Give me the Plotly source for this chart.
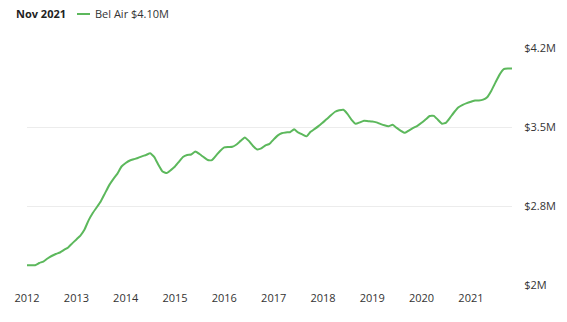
import pandas as pd
import plotly.graph_objects as go

start_month = "2012-01-01"
n_months = 119
values_musd = [
    2.275, 2.275, 2.275, 2.295, 2.308, 2.335, 2.357, 2.375, 2.388, 2.411,
    2.433, 2.469, 2.504, 2.540, 2.589, 2.673, 2.736, 2.789, 2.842, 2.914,
    2.985, 3.038, 3.087, 3.150, 3.181, 3.203, 3.214, 3.225, 3.240, 3.252,
    3.267, 3.234, 3.163, 3.105, 3.092, 3.118, 3.150, 3.194, 3.234, 3.252,
    3.256, 3.283, 3.261, 3.234, 3.207, 3.207, 3.247, 3.288, 3.319, 3.323,
    3.325, 3.345, 3.377, 3.408, 3.377, 3.332, 3.301, 3.310, 3.337, 3.350,
    3.390, 3.426, 3.445, 3.452, 3.454, 3.479, 3.452, 3.434, 3.417, 3.457,
    3.483, 3.510, 3.541, 3.572, 3.604, 3.635, 3.648, 3.653, 3.617, 3.564,
    3.528, 3.541, 3.555, 3.552, 3.549, 3.541, 3.528, 3.515, 3.507, 3.519,
    3.492, 3.466, 3.448, 3.470, 3.492, 3.510, 3.537, 3.568, 3.597, 3.599,
    3.564, 3.528, 3.539, 3.586, 3.635, 3.675, 3.697, 3.712, 3.724, 3.735,
    3.735, 3.742, 3.764, 3.822, 3.893, 3.964, 4.013, 4.018, 4.018,
]
y_tickvals = [2.1, 2.8, 3.5, 4.2]
y_ticktext = ["$2M", "$2.8M", "$3.5M", "$4.2M"]
header_date = "Nov 2021"
series_name = "Bel Air $4.10M"

dates = pd.date_range(start_month, periods=n_months, freq="MS")

GREEN = "#5cb85c"
FONT = "Open Sans"
TXT = "#333333"

fig = go.Figure()
fig.add_trace(go.Scatter(
    x=dates, y=values_musd, mode="lines",
    line=dict(color=GREEN, width=2, shape="spline", smoothing=0.4),
    name=series_name, showlegend=False, hoverinfo="skip",
))

fig.update_layout(
    width=567, height=322,
    margin=dict(l=27, r=55, t=48, b=37),
    paper_bgcolor="white", plot_bgcolor="white",
    font=dict(family=FONT, size=11, color=TXT),
    xaxis=dict(
        range=[dates[0], dates[-1]],
        tickformat="%Y", dtick="M12", tick0=start_month,
        showgrid=False, zeroline=False, showline=False,
        ticks="outside", ticklen=3, tickcolor="rgba(0,0,0,0)",
        tickfont=dict(size=11, color=TXT),
    ),
    yaxis=dict(
        range=[2.1, 4.2], side="right",
        tickvals=y_tickvals, ticktext=y_ticktext,
        showgrid=True, gridcolor="#ececec", gridwidth=1,
        zeroline=False, showline=False,
        ticks="outside", ticklen=9, tickcolor="rgba(0,0,0,0)",
        tickfont=dict(size=11, color=TXT),
    ),
    annotations=[
        dict(text="<b>" + header_date + "</b>", xref="paper", yref="paper",
             x=-0.026, y=1.1435, xanchor="left", yanchor="middle",
             showarrow=False, font=dict(size=11, color="#222222", family=FONT)),
        dict(text=series_name, xref="paper", yref="paper",
             x=0.136, y=1.1435, xanchor="left", yanchor="middle",
             showarrow=False, font=dict(size=11, color=TXT, family=FONT)),
    ],
    shapes=[
        dict(type="line", xref="paper", yref="paper",
             x0=0.1031, x1=0.1299, y0=1.1435, y1=1.1435,
             line=dict(color=GREEN, width=2)),
    ],
)

fig.write_html("out.html")
